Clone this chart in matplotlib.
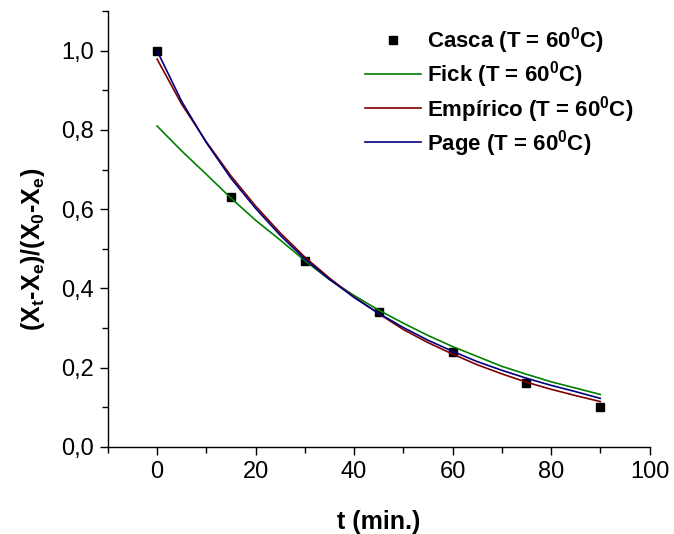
import matplotlib
matplotlib.use("Agg")
import matplotlib.pyplot as plt
from matplotlib.ticker import MultipleLocator, FixedLocator, FixedFormatter

plt.rcParams['font.family'] = ['Liberation Sans', 'DejaVu Sans']
plt.rcParams['mathtext.fontset'] = 'custom'
plt.rcParams['mathtext.rm'] = 'Liberation Sans:bold'
plt.rcParams['mathtext.bf'] = 'Liberation Sans:bold'
plt.rcParams['mathtext.default'] = 'bf'

# experimental points (Casca, T = 60 C)
t_exp = [0, 15, 30, 45, 60, 75, 90]
x_exp = [1.00, 0.63, 0.47, 0.34, 0.24, 0.16, 0.10]

# model curves every 5 min
t_fit = [0, 5, 10, 15, 20, 25, 30, 35, 40, 45, 50, 55, 60, 65, 70, 75, 80, 85, 90]
fick = [0.810, 0.747, 0.688, 0.628, 0.572, 0.522, 0.470, 0.422, 0.382, 0.345,
        0.312, 0.281, 0.253, 0.228, 0.203, 0.183, 0.164, 0.148, 0.132]
empirico = [0.979, 0.865, 0.770, 0.684, 0.608, 0.540, 0.479, 0.426, 0.378, 0.336,
            0.296, 0.263, 0.234, 0.207, 0.184, 0.163, 0.145, 0.129, 0.114]
page = [1.000, 0.872, 0.768, 0.678, 0.602, 0.534, 0.474, 0.423, 0.377, 0.337,
        0.301, 0.269, 0.241, 0.215, 0.193, 0.173, 0.155, 0.139, 0.122]

yticks = [0.0, 0.2, 0.4, 0.6, 0.8, 1.0]
ytick_labels = ['0,0', '0,2', '0,4', '0,6', '0,8', '1,0']
xticks = [0, 20, 40, 60, 80, 100]

fig = plt.figure(figsize=(6.74, 5.34), dpi=100)
ax = fig.add_axes([0.160, 0.1635, 0.8037, 0.8155])

ax.plot(t_exp, x_exp, 's', color='black', ms=6, label=r'Casca (T = 60$^{0}$C)')
ax.plot(t_fit, fick, color='#008000', lw=1.2, label=r'Fick (T = 60$^{0}$C)')
ax.plot(t_fit, empirico, color='#800000', lw=1.2, label=r'Empírico (T = 60$^{0}$C)')
ax.plot(t_fit, page, color='#000080', lw=1.2, label=r'Page (T = 60$^{0}$C)')

ax.set_xlim(-10, 100)
ax.set_ylim(0, 1.1)

ax.xaxis.set_major_locator(FixedLocator(xticks))
ax.xaxis.set_minor_locator(MultipleLocator(10))
ax.yaxis.set_major_locator(FixedLocator(yticks))
ax.yaxis.set_major_formatter(FixedFormatter(ytick_labels))
ax.yaxis.set_minor_locator(MultipleLocator(0.1))

for s in ['top', 'right']:
    ax.spines[s].set_visible(False)
for s in ['left', 'bottom']:
    ax.spines[s].set_linewidth(1.0)

ax.tick_params(which='major', direction='out', length=6, width=1, labelsize=17, pad=4)
ax.tick_params(which='minor', direction='out', length=4, width=1)

ax.set_xlabel('t (min.)', fontsize=18, fontweight='bold', labelpad=20)
ax.set_ylabel(r'(X$_t$-X$_e$)/(X$_0$-X$_e$)', fontsize=18, fontweight='bold')
ax.yaxis.set_label_coords(-0.113, 0.454)

leg = ax.legend(loc='upper left', bbox_to_anchor=(0.475, 0.968), frameon=False,
                prop={'weight': 'bold', 'size': 16}, handlelength=2.5,
                handletextpad=0.3, labelspacing=0.15, borderaxespad=0, borderpad=0)

fig.savefig('out.png', dpi=100)
